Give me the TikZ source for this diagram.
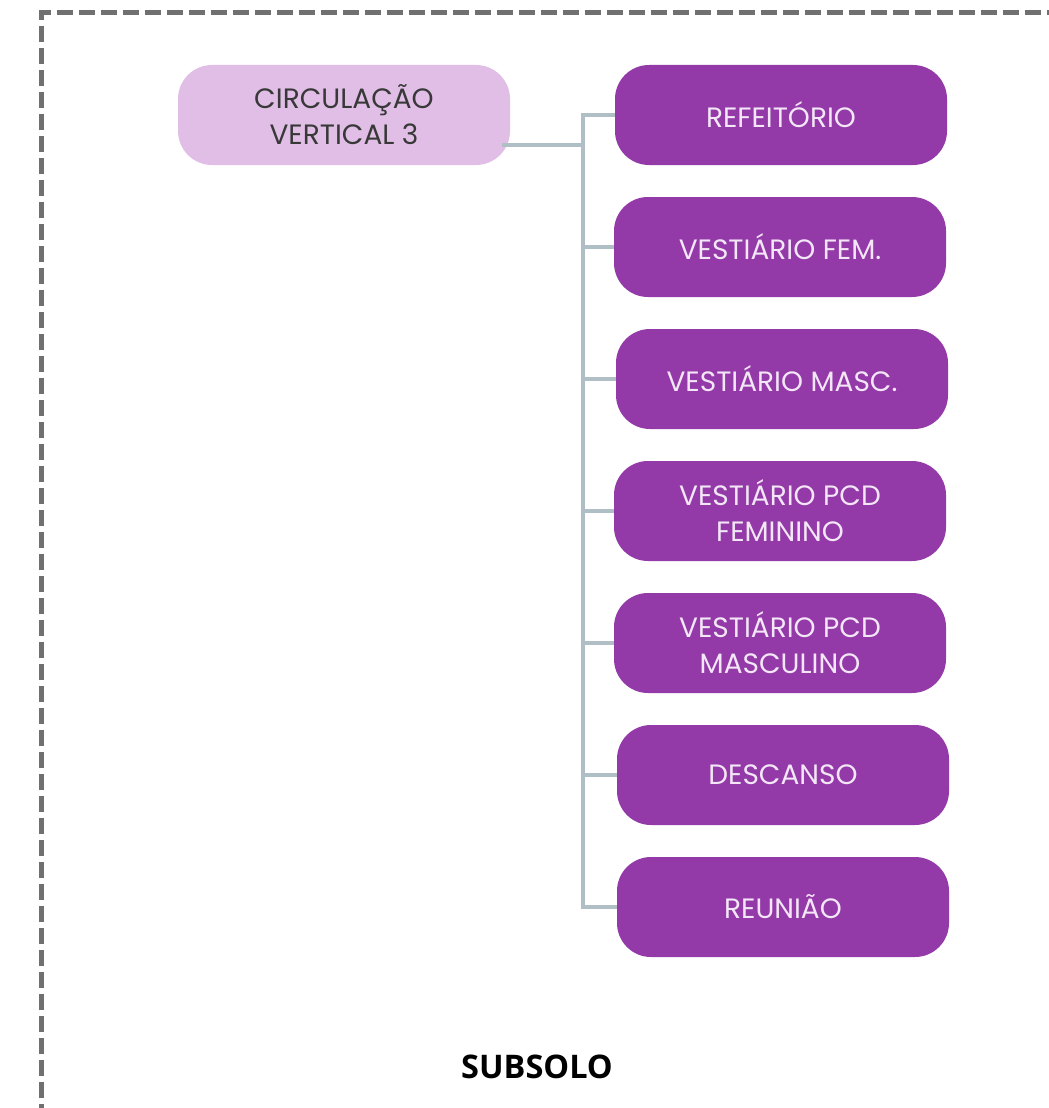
\documentclass[tikz,border=0pt]{standalone}
\usepackage{fontspec}
\setmainfont{Poppins}
\newfontfamily\labelfont{Open Sans}
\definecolor{purp}{HTML}{9339A8}
\definecolor{lav}{HTML}{E0BEE6}
\definecolor{roomtext}{HTML}{F3E6F6}
\definecolor{hubtext}{HTML}{383838}
\definecolor{linkc}{HTML}{B0BEC5}
\definecolor{framec}{HTML}{707070}
\begin{document}
\begin{tikzpicture}[x=1pt,y=-1pt,
  room/.style={rectangle,rounded corners=34pt,fill=purp,text=roomtext,
    minimum width=332pt,minimum height=100pt,align=center,inner sep=0pt,
    font=\fontsize{28}{36}\selectfont},
  hub/.style={room,fill=lav,text=hubtext},
  link/.style={draw=linkc,line width=4pt,line join=miter},
  frame/.style={draw=framec,line width=5pt,dash pattern=on 16pt off 6pt}]
\useasboundingbox (0,0) rectangle (1049,1108);
\draw[frame] (41.5,1120) -- (41.5,13) -- (1060,13);
\node[hub] (circ) at (344,115) {CIRCULAÇÃO\\VERTICAL 3};
\node[room] (r1) at (781,115) {REFEITÓRIO};
\node[room] (r2) at (780,247) {VESTIÁRIO FEM.};
\node[room] (r3) at (782,379) {VESTIÁRIO MASC.};
\node[room] (r4) at (780,511) {VESTIÁRIO PCD\\FEMININO};
\node[room] (r5) at (780,643) {VESTIÁRIO PCD\\MASCULINO};
\node[room] (r6) at (783,775) {DESCANSO};
\node[room] (r7) at (783,907) {REUNIÃO};
\coordinate (tt) at (583,115);
\coordinate (tb) at (583,907);
\draw[link] (r1.west) -- (tt) -- (tb) -- (r7.west);
\foreach \i in {2,...,6} \draw[link] (tt |- r\i.west) -- (r\i.west);
\draw[link] ([yshift=-30pt,xshift=-8pt]circ.east) -| (tt);
\node[font=\labelfont\bfseries\fontsize{32.5}{36}\selectfont] (lbl) at (537,1067) {SUBSOLO};
\end{tikzpicture}
\end{document}
